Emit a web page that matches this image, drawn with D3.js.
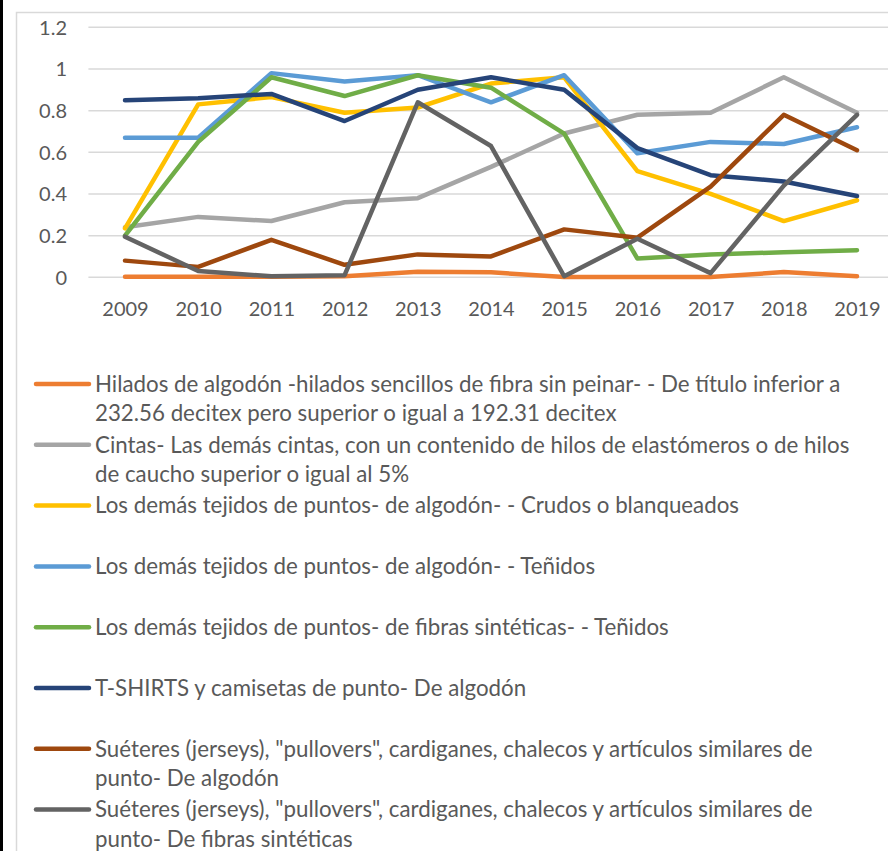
<!DOCTYPE html>
<html>
<head>
<meta charset="utf-8">
<script src="https://cdn.jsdelivr.net/npm/d3@7"></script>
<style>
  html, body { margin: 0; padding: 0; background: #fff; }
  svg { display: block; }
  text { font-family: Lato, "Open Sans", sans-serif; fill: #595959; }
</style>
</head>
<body>
<div id="chart"></div>
<script>
// Years on the category axis
const years = ["2009","2010","2011","2012","2013","2014","2015","2016","2017","2018","2019"];

// Y axis tick values and their labels
const yTicks = [0, 0.2, 0.4, 0.6, 0.8, 1, 1.2];
const yTickLabels = ["0", "0.2", "0.4", "0.6", "0.8", "1", "1.2"];

// Series names (each entry is the wrapped legend text, one string per line)
const seriesNames = [
  ["Hilados de algodón -hilados sencillos de fibra sin peinar- - De título inferior a", "232.56 decitex pero superior o igual a 192.31 decitex"],
  ["Cintas- Las demás cintas, con un contenido de hilos de elastómeros o de hilos", "de caucho superior o igual al 5%"],
  ["Los demás tejidos de puntos- de algodón- - Crudos o blanqueados"],
  ["Los demás tejidos de puntos- de algodón- - Teñidos"],
  ["Los demás tejidos de puntos- de fibras sintéticas- - Teñidos"],
  ["T-SHIRTS y camisetas de punto- De algodón"],
  ["Suéteres (jerseys), \"pullovers\", cardiganes, chalecos y artículos similares de", "punto- De algodón"],
  ["Suéteres (jerseys), \"pullovers\", cardiganes, chalecos y artículos similares de", "punto- De fibras sintéticas"]
];

// Series values, 2009–2019
const hilados      = [0.003, 0.003, 0.003, 0.005, 0.027, 0.024, 0.001, 0.002, 0.002, 0.025, 0.005];
const cintas       = [0.24, 0.29, 0.27, 0.36, 0.38, 0.53, 0.69, 0.78, 0.79, 0.96, 0.79];
const crudos       = [0.235, 0.83, 0.865, 0.79, 0.815, 0.93, 0.96, 0.51, 0.40, 0.27, 0.37];
const tenidosAlg   = [0.67, 0.67, 0.98, 0.94, 0.97, 0.84, 0.97, 0.595, 0.65, 0.64, 0.72];
const tenidosSint  = [0.20, 0.65, 0.96, 0.87, 0.97, 0.91, 0.69, 0.09, 0.11, 0.12, 0.13];
const tshirts      = [0.85, 0.86, 0.88, 0.75, 0.90, 0.96, 0.90, 0.62, 0.49, 0.46, 0.39];
const sueteresAlg  = [0.08, 0.05, 0.18, 0.06, 0.11, 0.10, 0.23, 0.19, 0.435, 0.78, 0.61];
const sueteresSint = [0.195, 0.03, 0.005, 0.01, 0.84, 0.63, 0.005, 0.185, 0.02, 0.44, 0.78];

const seriesValues = [hilados, cintas, crudos, tenidosAlg, tenidosSint, tshirts, sueteresAlg, sueteresSint];
const seriesColors = ["#ED7D31", "#A5A5A5", "#FFC000", "#5B9BD5", "#70AD47", "#264478", "#9E480E", "#636363"];

const W = 888, H = 851;
const svg = d3.select("#chart").append("svg").attr("width", W).attr("height", H);

// Outer frame: dark edge on the left, light chart-area border
svg.append("rect").attr("x", 0).attr("y", 0).attr("width", 3).attr("height", H).attr("fill", "#000");
svg.append("path")
  .attr("d", `M16.5,${H} V12.5 H${W}`)
  .attr("fill", "none").attr("stroke", "#d9d9d9").attr("stroke-width", 1.5);

// Scales
const x = d3.scalePoint().domain(years).range([125, 857]);
const step = x.step();
const y = d3.scaleLinear().domain([0, 1.2]).range([277.3, 27.3]);

// Horizontal gridlines
const gx0 = x(years[0]) - step / 2, gx1 = x(years[years.length - 1]) + step / 2;
svg.append("g").selectAll("line").data(yTicks).join("line")
  .attr("x1", gx0).attr("x2", gx1)
  .attr("y1", d => y(d)).attr("y2", d => y(d))
  .attr("stroke", "#d9d9d9").attr("stroke-width", 1.5);

// Y axis labels
const yAxis = d3.axisLeft(y).tickValues(yTicks).tickSize(0).tickPadding(0)
  .tickFormat((d, i) => yTickLabels[i]);
const gy = svg.append("g").attr("transform", "translate(67,0)").call(yAxis);
gy.select(".domain").remove();
gy.selectAll("text").attr("font-size", 20).attr("font-family", null).attr("fill", null)
  .attr("dy", "0.35em");

// X axis labels
const xAxis = d3.axisBottom(x).tickSize(0).tickPadding(0);
const gxA = svg.append("g").attr("transform", "translate(0,302)").call(xAxis);
gxA.select(".domain").remove();
gxA.selectAll("text").attr("font-size", 20).attr("font-family", null).attr("fill", null)
  .attr("dy", "0.71em");

// Series lines
const line = d3.line().x((d, i) => x(years[i])).y(d => y(d));
svg.append("g").selectAll("path").data(seriesValues).join("path")
  .attr("d", d => line(d))
  .attr("fill", "none")
  .attr("stroke", (d, i) => seriesColors[i])
  .attr("stroke-width", 4.5)
  .attr("stroke-linejoin", "round")
  .attr("stroke-linecap", "round");

// Legend: one slot per series, text wraps onto a second line
const legendTop = 384, slot = 60.8, lineGap = 29.5;
const lg = svg.append("g").selectAll("g").data(seriesNames).join("g")
  .attr("transform", (d, i) => `translate(0,${legendTop + i * slot})`);
lg.append("line")
  .attr("x1", 36).attr("x2", 89).attr("y1", 0).attr("y2", 0)
  .attr("stroke", (d, i) => seriesColors[i])
  .attr("stroke-width", 4.5).attr("stroke-linecap", "round");
lg.selectAll("text").data(d => d).join("text")
  .attr("x", 95)
  .attr("y", (d, j) => j * lineGap)
  .attr("dy", "0.35em")
  .attr("font-size", 22.3)
  .text(d => d);
</script>
</body>
</html>
